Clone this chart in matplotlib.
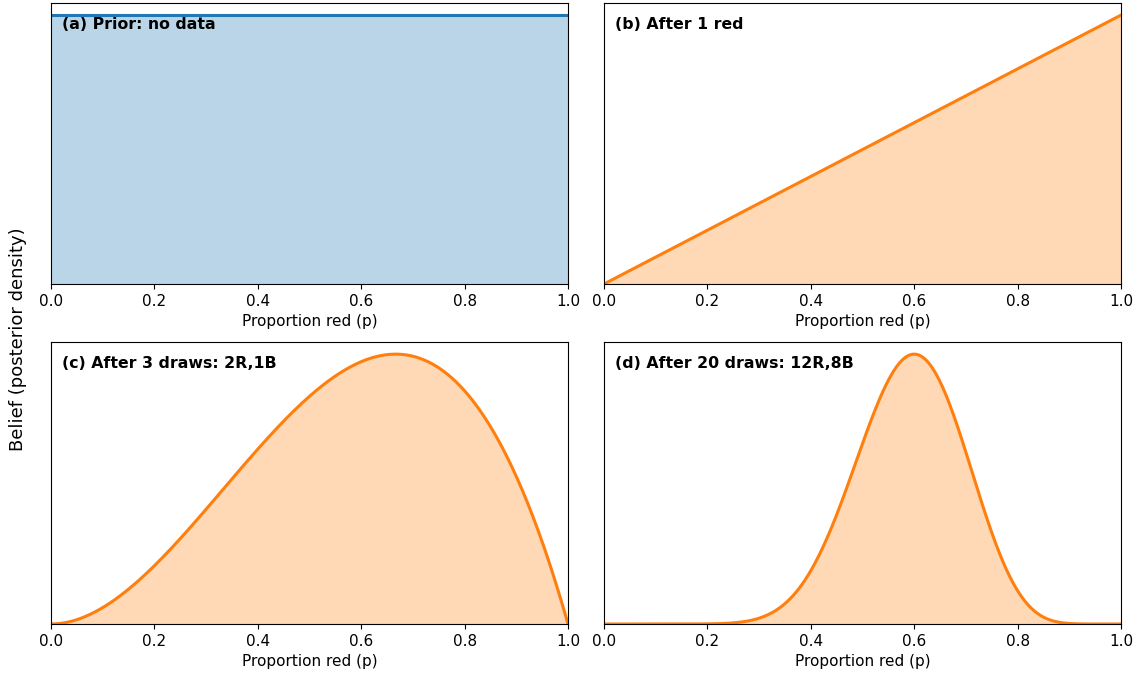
#Beta posterior for the proportion of red balls as draws come in

import os
import numpy as np
import matplotlib as mpl
import matplotlib.pyplot as plt
from matplotlib.font_manager import FontProperties
from math import gamma

plt.rcParams['font.family'] = ['DejaVu Sans']
#Use the bundled bold face so the condensed system variant is not picked up
fBold = os.path.join(mpl.get_data_path(), "fonts", "ttf", "DejaVuSans-Bold.ttf")
tProp = FontProperties(fname=fBold, size=11.3)

#Draw counts for each panel (red, blue)
Titles = ["(a) Prior: no data", "(b) After 1 red", "(c) After 3 draws: 2R,1B", "(d) After 20 draws: 12R,8B"]
nRed = [0, 1, 2, 12]
nBlue = [0, 0, 1, 8]
Cols = ["C0", "C1", "C1", "C1"]

xTicks = [0.0, 0.2, 0.4, 0.6, 0.8, 1.0]
p = np.linspace(0, 1, 501)

def BetaPdf(p, a, b):
	B = gamma(a)*gamma(b)/gamma(a+b)
	return p**(a-1)*(1-p)**(b-1)/B

fig = plt.figure(figsize=(11.36, 6.79), dpi=100)
W, H = 1136.0, 679.0
#Axes boxes in pixels: left, top, right, bottom
Boxes = [(51, 3, 568, 284), (604, 3, 1121, 284), (51, 342, 568, 624), (604, 342, 1121, 624)]

for n in range(4):
	x0, y0, x1, y1 = Boxes[n]
	ax = fig.add_axes([x0/W, 1-y1/H, (x1-x0)/W, (y1-y0)/H])
	pdf = BetaPdf(p, nRed[n]+1, nBlue[n]+1)
	ax.fill_between(p, 0, pdf, color=Cols[n], alpha=0.3, lw=0)
	ax.plot(p, pdf, color=Cols[n], lw=2.2)
	ax.set_xlim(0, 1)
	ax.set_ylim(0, pdf.max()*1.045)
	ax.set_yticks([])
	ax.set_xticks(xTicks)
	ax.tick_params(labelsize=11)
	ax.set_xlabel("Proportion red (p)", fontsize=11)
	ax.text(0.022, 0.95, Titles[n], transform=ax.transAxes, ha='left', va='top',
		fontproperties=tProp)

fig.text(18/W, 0.5, "Belief (posterior density)", rotation=90, ha='center', va='center', fontsize=13)

fig.savefig("out.png", dpi=100)
